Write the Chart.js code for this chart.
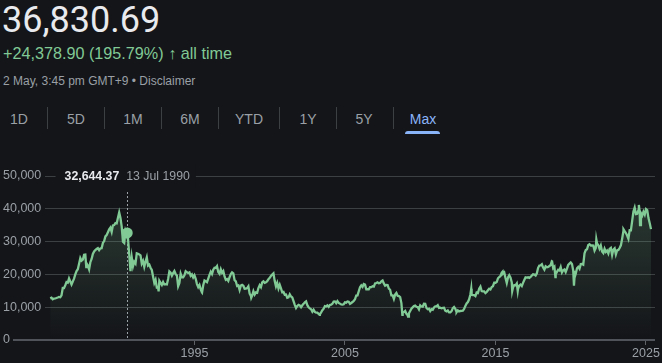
<!DOCTYPE html>
<html>
<head>
<meta charset="utf-8">
<script src="https://cdn.jsdelivr.net/npm/chart.js@4.4.1/dist/chart.umd.min.js"></script>
<style>
html, body { margin: 0; padding: 0; background: #141519; width: 662px; height: 363px; overflow: hidden;
  font-family: Arial, "Liberation Sans", sans-serif; }
.abs { position: absolute; white-space: nowrap; }
#price { left: 2px; top: 2px; font: 36px/36px Roboto, sans-serif; color: #e8eaed; }
#change { left: 3px; top: 45px; font-size: 16.2px; line-height: 16px; color: #81c995; }
#stamp { left: 3px; top: 75px; font-size: 12px; line-height: 12px; color: #9aa0a6; }
.tab { top: 112px; font-size: 14px; line-height: 14px; color: #9aa0a6; transform: translateX(-50%); }
.tab.on { color: #8ab4f8; }
.sep { top: 107px; width: 1px; height: 22px; background: #3c4043; }
#ul { left: 405px; top: 131px; width: 35px; height: 3px; background: #8ab4f8; border-radius: 3px 3px 0 0; }
#wrap { position: absolute; left: 0; top: 150px; width: 662px; height: 213px; }
</style>
</head>
<body>
<div class="abs" id="price">36,830.69</div>
<div class="abs" id="change">+24,378.90 (195.79%) <b>&#8593;</b> all time</div>
<div class="abs" id="stamp">2 May, 3:45 pm GMT+9 &bull; Disclaimer</div>

<div class="abs tab" style="left:19px">1D</div>
<div class="abs sep" style="left:47px"></div>
<div class="abs tab" style="left:76px">5D</div>
<div class="abs sep" style="left:104px"></div>
<div class="abs tab" style="left:133px">1M</div>
<div class="abs sep" style="left:161px"></div>
<div class="abs tab" style="left:190px">6M</div>
<div class="abs sep" style="left:218px"></div>
<div class="abs tab" style="left:249px">YTD</div>
<div class="abs sep" style="left:279px"></div>
<div class="abs tab" style="left:308px">1Y</div>
<div class="abs sep" style="left:336px"></div>
<div class="abs tab" style="left:364px">5Y</div>
<div class="abs sep" style="left:393px"></div>
<div class="abs tab on" style="left:423px">Max</div>
<div class="abs" id="ul"></div>

<div id="wrap"><canvas id="chart" width="662" height="213"></canvas></div>

<script>
// monthly closes, first one is end of May 1985
const startYear = 1985;
const startMonth = 5;
const monthlyCloses = [
  12700, 12880, 12400, 12650, 12700, 12800, 12950, 13113,
  13020, 13640, 15860, 15825, 16700, 17650, 17500, 18790, 17850, 16910, 17850, 18701,
  20000, 21030, 21570, 23270, 25000, 24180, 24490, 25950, 26010, 23330, 22690, 21564,
  23720, 24700, 26260, 27000, 27420, 27770, 28000, 27400, 27920, 28000, 29580, 30159,
  31580, 31990, 32840, 33710, 34270, 32950, 34950, 35050, 35640, 35550, 37270, 38916,
  37190, 34590, 29980, 29590, 33130, 31940, 31040, 25980, 20980, 25190, 22450, 23849,
  23290, 26410, 26290, 26110, 25790, 23290, 24120, 22340, 23920, 25220, 22690, 22984,
  22020, 21340, 19350, 17390, 18350, 15950, 15910, 18060, 17400, 16770, 17680, 16925,
  17020, 16950, 18590, 20920, 20550, 19590, 20380, 21030, 20110, 19700, 16410, 17417,
  20230, 19110, 19110, 19730, 20970, 20640, 20450, 20630, 19560, 19990, 19080, 19723,
  18650, 17050, 16140, 16810, 15440, 14520, 16680, 18120, 17910, 17650, 18740, 19868,
  20810, 20130, 21410, 22040, 21950, 22530, 20690, 20170, 21560, 20470, 21020, 19361,
  18330, 18560, 18000, 19150, 20070, 20600, 20330, 18230, 17890, 16460, 16630, 15259,
  16630, 16830, 16530, 15640, 15670, 15830, 16380, 14110, 13410, 13560, 14880, 13842,
  14500, 14370, 15840, 16700, 16110, 17530, 17860, 17440, 17600, 17940, 18560, 18934,
  19540, 19960, 20340, 17970, 16330, 17410, 15730, 16860, 15750, 14540, 14650, 13786,
  13840, 12880, 12990, 13930, 13260, 12970, 11860, 10710, 9770, 10370, 10700, 10543,
  9990, 10590, 11020, 11490, 11760, 10620, 10000, 9620, 9380, 8640, 9220, 8579,
  8340, 8360, 7970, 7830, 8420, 9080, 9560, 10340, 10220, 10560, 10100, 10677,
  10780, 11040, 11720, 11760, 11240, 11860, 11330, 11080, 10820, 10770, 10900, 11489,
  11390, 11740, 11670, 11010, 11280, 11580, 11900, 12410, 13570, 13610, 14870, 16111,
  16650, 16200, 17060, 16910, 15470, 15500, 15460, 16140, 16130, 16400, 16270, 17226,
  17380, 17600, 17290, 17400, 17880, 18140, 17250, 16570, 16790, 16740, 15680, 15308,
  13590, 13600, 12530, 13850, 14340, 13480, 13380, 13070, 11260, 8580, 8510, 8860,
  7990, 7570, 8110, 8830, 9520, 9960, 10360, 10490, 10130, 10030, 9350, 10546,
  10200, 10130, 11090, 11060, 9770, 9380, 9540, 8820, 9370, 9200, 9940, 10229,
  10240, 10620, 9760, 9850, 9690, 9820, 9830, 8950, 8700, 8990, 8430, 8455,
  8800, 9720, 10080, 9520, 8540, 9010, 8700, 8840, 8870, 8930, 9450, 10395,
  11140, 11560, 12400, 13860, 13770, 13680, 13670, 13390, 14460, 14330, 15660, 16291,
  14910, 14840, 14830, 14300, 14630, 15160, 15620, 15420, 16170, 16410, 17460, 17451,
  17670, 18800, 19210, 19520, 20560, 20240, 20590, 18890, 17390, 19080, 19750, 19034,
  17520, 16030, 16760, 16670, 17230, 15580, 16570, 16890, 16450, 17430, 18310, 19114,
  19040, 19120, 18910, 19200, 19650, 20030, 19930, 19650, 20360, 22010, 22720, 22765,
  23100, 22070, 21450, 22470, 22200, 22300, 22550, 22870, 24120, 21920, 22350, 20015,
  20770, 21390, 21210, 22260, 20600, 21280, 21520, 20700, 21760, 22930, 23290, 23657,
  23200, 21140, 18920, 20190, 21880, 22290, 21710, 23140, 23190, 22980, 26430, 27444,
  27660, 28970, 29180, 28810, 28860, 28790, 27280, 28090, 29450, 28890, 27820, 28791,
  27000, 26530, 27820, 26850, 27280, 26390, 27800, 28090, 25940, 27590, 27970, 26095,
  27330, 27450, 28040, 28860, 30890, 33190, 33170, 32620, 31860, 30860, 33490, 33464,
  36290, 39170, 40370, 38410, 38490, 39580, 39100, 38650, 37920, 39080, 38210, 39895,
  39570, 37160, 35620, 33800
];

// weekly highs / lows that the month-end closes miss
const weeklyExtremes = [
  ['1987-10-23', 22200], ['1992-08-14', 14820], ['1995-07-03', 14485],
  ['1998-10-09', 12880], ['2003-04-25', 7700], ['2008-10-24', 7650],
  ['2009-03-10', 7100], ['2012-06-01', 8440], ['2013-05-22', 15627],
  ['2015-06-24', 20868], ['2016-02-12', 14953], ['2016-06-24', 14952],
  ['2018-10-02', 24270], ['2018-12-25', 19155], ['2020-03-19', 16552],
  ['2021-09-14', 30670], ['2023-07-03', 33753], ['2024-07-11', 41190],
  ['2024-08-09', 35025]
];

const hoverDate = '1990-07-13';
const hoverLabel = '13 Jul 1990';
const hoverValue = 32644.37;

const yTicks = [0, 10000, 20000, 30000, 40000, 50000];
const xTicks = [1995, 2005, 2015, 2025];

function toYear(s) {
  const [y, m, d] = s.split('-').map(Number);
  return y + (m - 1) / 12 + (d - 1) / 365;
}

const points = monthlyCloses.map((v, i) => ({ x: startYear + (startMonth + i) / 12, y: v }))
  .concat(weeklyExtremes.map(([d, v]) => ({ x: toYear(d), y: v })))
  .concat([{ x: toYear(hoverDate), y: hoverValue }])
  .sort((a, b) => a.x - b.x);

const green = '#81c995';
const grey = '#9aa0a6';

const hoverPlugin = {
  id: 'hoverMarker',
  beforeDatasetsDraw(chart) {
    const c = chart.ctx, a = chart.chartArea;
    const px = Math.round(chart.scales.x.getPixelForValue(toYear(hoverDate))) + 0.5;
    c.save();
    c.strokeStyle = '#9aa0a6';
    c.lineWidth = 1;
    c.setLineDash([2, 2]);
    c.beginPath();
    c.moveTo(px, a.top + 16);
    c.lineTo(px, a.bottom);
    c.stroke();
    c.restore();
  },
  afterDraw(chart) {
    const c = chart.ctx, a = chart.chartArea;
    const px = chart.scales.x.getPixelForValue(toYear(hoverDate));
    const valueText = hoverValue.toLocaleString('en-US', { minimumFractionDigits: 2 });
    c.save();
    c.font = 'bold 12.3px Arial, "Liberation Sans", sans-serif';
    const w1 = c.measureText(valueText).width;
    c.font = '12.3px Arial, "Liberation Sans", sans-serif';
    const w2 = c.measureText(hoverLabel).width;
    const gap = 7;
    const x0 = px - (w1 + gap + w2) / 2;
    c.fillStyle = '#141519';
    c.fillRect(x0 - 9, a.top - 11, w1 + gap + w2 + 15, 22);
    c.textBaseline = 'middle';
    c.font = 'bold 12.3px Arial, "Liberation Sans", sans-serif';
    c.fillStyle = '#e8eaed';
    c.fillText(valueText, x0, a.top + 0.5);
    c.font = '12.3px Arial, "Liberation Sans", sans-serif';
    c.fillStyle = grey;
    c.fillText(hoverLabel, x0 + w1 + gap, a.top + 0.5);
    c.restore();
  }
};

new Chart(document.getElementById('chart'), {
  type: 'line',
  data: {
    datasets: [
      {
        data: [{ x: toYear(hoverDate), y: hoverValue }],
        showLine: false,
        pointRadius: 5.5,
        pointBackgroundColor: green,
        pointBorderWidth: 0
      },
      {
        data: points,
        borderColor: green,
        borderWidth: 2.3,
        pointRadius: 0,
        tension: 0,
        fill: 'origin',
        backgroundColor(ctx) {
          const a = ctx.chart.chartArea;
          if (!a) return 'transparent';
          const g = ctx.chart.ctx.createLinearGradient(0, a.top, 0, a.bottom);
          g.addColorStop(0, 'rgba(129,201,149,0.24)');
          g.addColorStop(1, 'rgba(129,201,149,0.0)');
          return g;
        }
      }
    ]
  },
  options: {
    responsive: false,
    animation: false,
    events: [],
    layout: { padding: { top: 26, right: 7, left: 3, bottom: 0 } },
    plugins: { legend: { display: false }, tooltip: { enabled: false } },
    scales: {
      x: {
        type: 'linear',
        min: 1985.07,
        max: 2025.6,
        afterBuildTicks(s) { s.ticks = xTicks.map(v => ({ value: v })); },
        afterFit(s) { s.height = 23; },
        ticks: { color: grey, font: { size: 12.5 }, padding: 1, maxRotation: 0, autoSkip: false,
          callback: v => String(v) },
        grid: { drawOnChartArea: false, drawTicks: true, tickLength: 5, tickColor: '#5f6368' },
        border: { display: false }
      },
      y: {
        min: 0,
        max: 50000,
        afterBuildTicks(s) { s.ticks = yTicks.map(v => ({ value: v })); },
        afterFit(s) { s.width = 42; },
        ticks: { color: grey, font: { size: 12.5 }, crossAlign: 'far' },
        grid: {
          color: c => (c.tick && c.tick.value === 0) ? '#50545a' : '#3c4043',
          lineWidth: c => (c.tick && c.tick.value === 0) ? 2 : 1,
          tickLength: 32,
          tickColor: c => (c.tick && c.tick.value === 0) ? '#50545a' : 'transparent',
          tickWidth: 2
        },
        border: { display: false }
      }
    }
  },
  plugins: [hoverPlugin]
});
</script>
</body>
</html>
